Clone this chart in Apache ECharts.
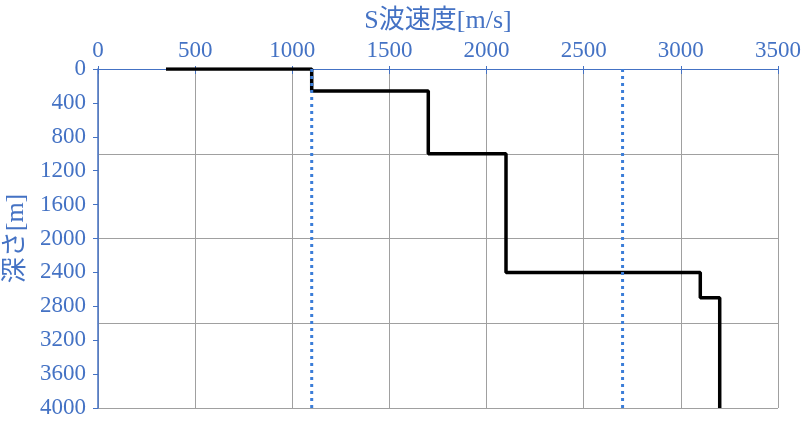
<!DOCTYPE html>
<html><head><meta charset="utf-8">
<script src="https://cdn.jsdelivr.net/npm/echarts@6/dist/echarts.min.js"></script>
<style>html,body{margin:0;padding:0;background:#fff}#c{width:810px;height:426px}</style>
</head><body><div id="c"></div>
<script>
const stepVs = [350, 1100, 1100, 1700, 1700, 2100, 2100, 3100, 3100, 3200, 3200];
const stepDepth = [0, 0, 260, 260, 1000, 1000, 2400, 2400, 2700, 2700, 4000];
const refVs = [1100, 2700];
const depthRange = [0, 4000];
const xTitle = 'S波速度[m/s]';
const yTitle = '深さ[m]';

const blue = '#4472C4';
const font = "'Liberation Serif', 'Noto Sans CJK JP', serif";
const plain = v => String(v);
const chart = echarts.init(document.getElementById('c'));
const refSeries = refVs.map(v => ({
  type: 'line', xAxisIndex: 0, yAxisIndex: 0, symbol: 'none', silent: true,
  data: depthRange.map(d => [v, d]),
  lineStyle: {color: '#3B7DD8', width: 3, type: [3, 4]}, z: 4
}));
chart.setOption({
  animation: false,
  grid: {left: 98, right: 32, top: 69, bottom: 18, containLabel: false, outerBoundsMode: 'none'},
  xAxis: [{
    type: 'value', position: 'top', min: 0, max: 3500, interval: 500,
    name: xTitle, nameLocation: 'middle', nameGap: 35,
    nameTextStyle: {color: blue, fontSize: 26, fontFamily: font},
    axisLine: {show: true, lineStyle: {color: blue, width: 1}},
    axisTick: {show: true, length: 3, lineStyle: {color: blue}},
    axisLabel: {color: blue, fontSize: 23, fontFamily: font, margin: 7, formatter: plain},
    splitLine: {show: true, lineStyle: {color: '#A0A0A0', width: 1}}
  }, {
    type: 'value', position: 'bottom', min: 0, max: 3500, interval: 500,
    axisLine: {show: true, lineStyle: {color: blue, width: 1}},
    axisTick: {show: true, length: 5, lineStyle: {color: blue}},
    axisLabel: {show: false}, splitLine: {show: false}
  }],
  yAxis: [{
    type: 'value', inverse: true, min: 0, max: 4000, interval: 400,
    name: yTitle, nameLocation: 'middle', nameGap: 66, nameRotate: 90,
    nameTextStyle: {color: blue, fontSize: 26, fontFamily: font},
    axisLine: {show: true, lineStyle: {color: blue, width: 1.5}},
    axisTick: {show: true, length: 5, lineStyle: {color: blue}},
    axisLabel: {color: blue, fontSize: 23, fontFamily: font, margin: 12, formatter: plain},
    splitLine: {show: false}
  }, {
    type: 'value', inverse: true, min: 0, max: 4000, interval: 1000, position: 'left',
    axisLine: {show: false}, axisTick: {show: false}, axisLabel: {show: false},
    splitLine: {show: true, lineStyle: {color: '#A0A0A0', width: 1}}
  }],
  series: [{
    type: 'line', xAxisIndex: 0, yAxisIndex: 0, symbol: 'none', silent: true,
    data: stepVs.map((v, i) => [v, stepDepth[i]]),
    lineStyle: {color: '#000', width: 3.5}, z: 3
  }].concat(refSeries)
});
</script></body></html>
